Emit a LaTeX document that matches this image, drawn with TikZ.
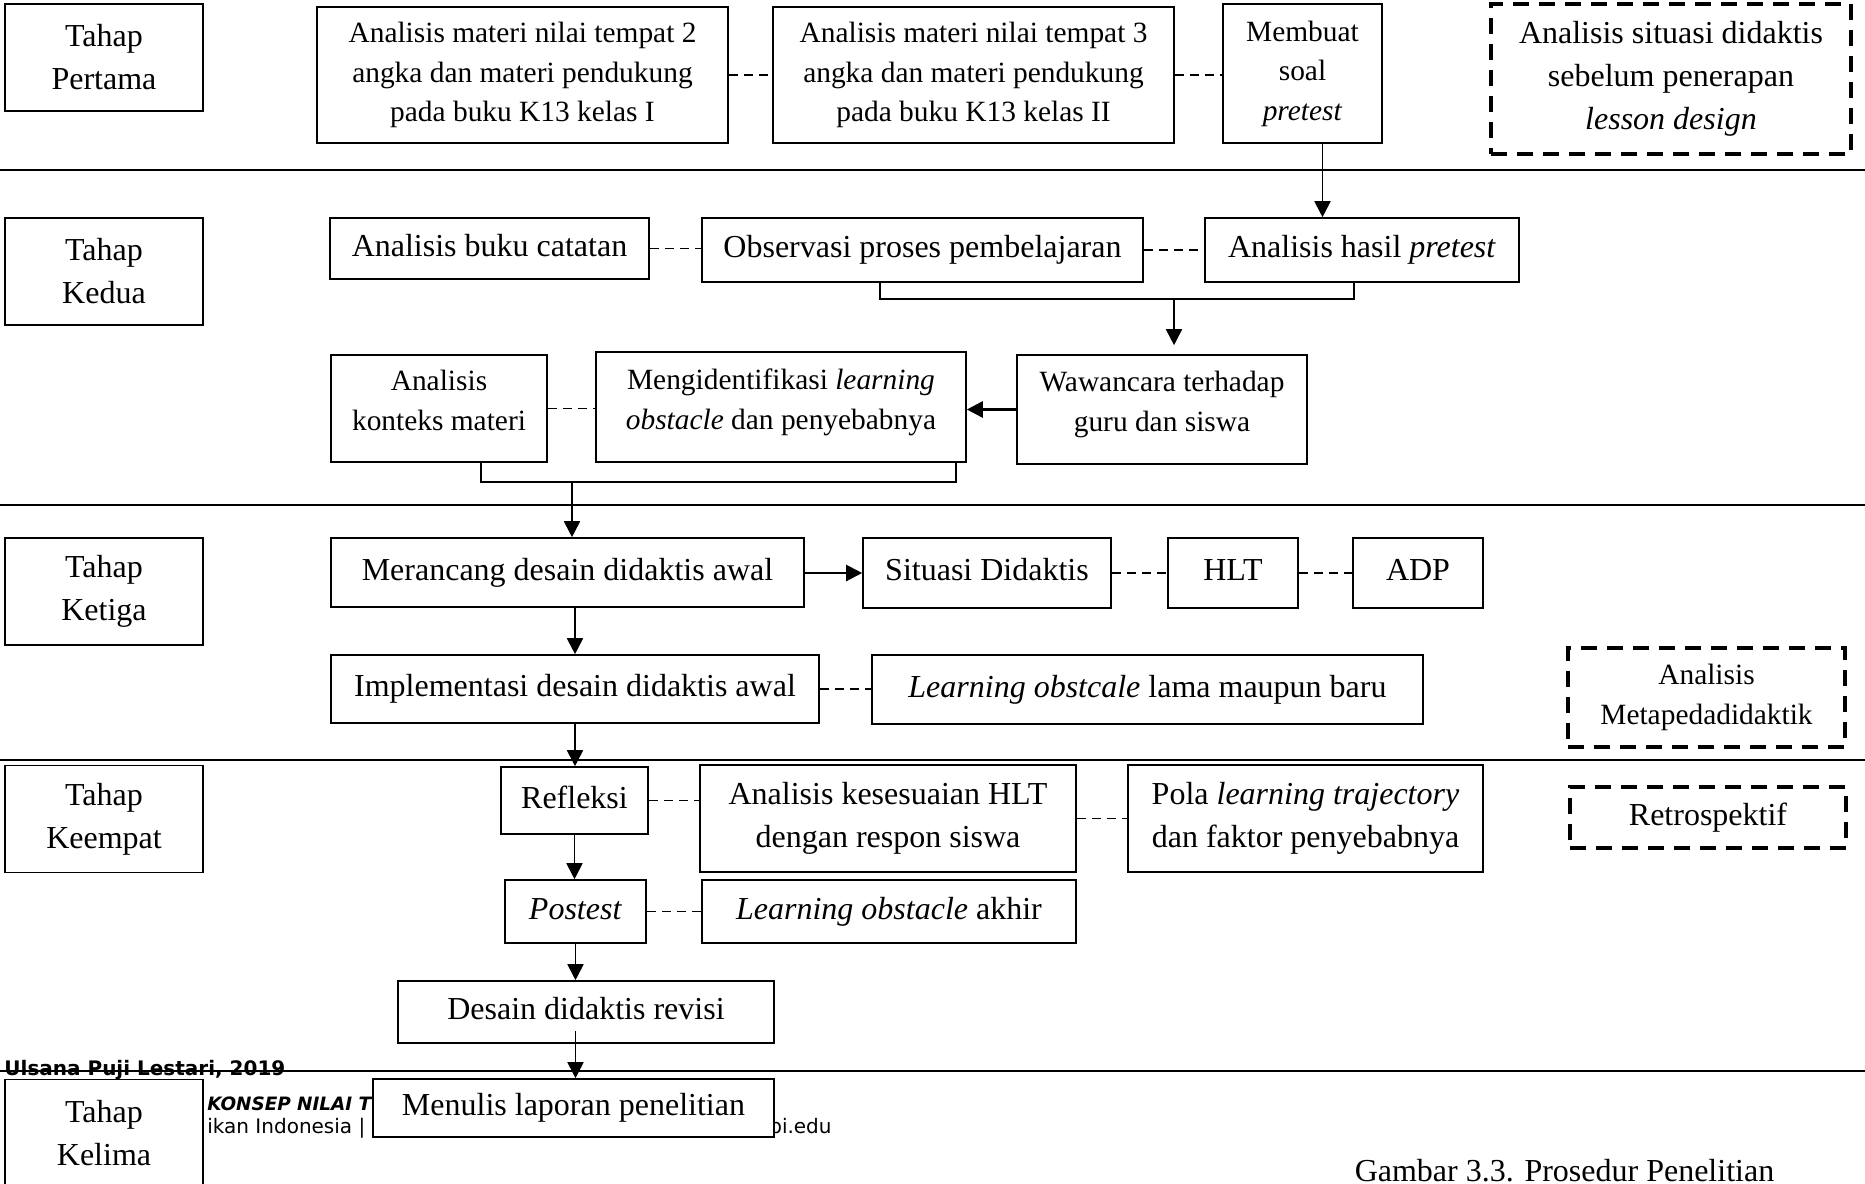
\documentclass[tikz,border=0pt]{standalone}
\usepackage{fontspec}
\setmainfont{Liberation Serif}
\newfontfamily\footfont{DejaVu Sans}
\usetikzlibrary{positioning,arrows.meta}

\begin{document}
\begin{tikzpicture}[x=0.5pt, y=-0.5pt, every node/.style={font=\fontsize{16}{21.5}\selectfont}]
\tikzstyle{box}=[rectangle, draw=black, line width=0.8pt, fill=white, align=center, inner sep=0pt]
\tikzstyle{one}=[text height=11pt, text depth=3.5pt]
\tikzstyle{small}=[font=\fontsize{14.7}{19.75}\selectfont]
\tikzstyle{dbox}=[box, line width=1.6pt, dash pattern=on 8pt off 5pt]
\tikzstyle{tahap}=[box, minimum width=99pt, minimum height=53.5pt]
\tikzstyle{link}=[line width=0.6pt, dash pattern=on 4.5pt off 3pt]
\tikzstyle{arr}=[-{Triangle[length=8pt,width=8pt]}, line width=0.9pt]
\tikzstyle{bigarr}=[arr, line width=1.4pt]
\tikzstyle{sep}=[line width=0.9pt]
\tikzstyle{foot}=[font=\footfont\fontsize{10}{12}\selectfont, anchor=base west, inner sep=0pt]

% page
\fill[white] (0,0) rectangle (1865,1184);
\useasboundingbox (0,0) rectangle (1865,1184);
\foreach \y in {170,505,760,1071} \draw[sep] (0,\y) -- (1865,\y);

% footer of the page
\node[foot] (penulis) at (4,1075) {\bfseries Ulsana Puji Lestari, 2019};
\node[foot] (judul) at (207,1110) {\fontsize{9.2}{11}\selectfont\bfseries\itshape KONSEP NILAI T};
\node[foot] (univ) at (207,1133) {ikan Indonesia |};
\node[foot, anchor=base east] (repo) at (832,1133) {pi.edu};

% stages
\node[tahap] (t1) at (104,57.5) {Tahap\\Pertama};
\node[tahap] (t2) at (104,271.5) {Tahap\\Kedua};
\node[tahap] (t3) at (104,591.5) {Tahap\\Ketiga};
\node[tahap] (t4) at (104,819) {Tahap\\Keempat};
\node[tahap] (t5) at (104,1133) {Tahap\\Kelima};

% tahap pertama
\node[box, small, minimum width=205.5pt, minimum height=68pt] (materi1) at (522.5,75) {Analisis materi nilai tempat 2\\angka dan materi pendukung\\pada buku K13 kelas I};
\node[box, small, minimum width=200.5pt, minimum height=68pt] (materi2) at (973.5,75) {Analisis materi nilai tempat 3\\angka dan materi pendukung\\pada buku K13 kelas II};
\node[box, small, minimum width=79.5pt, minimum height=69.5pt] (soal) at (1302.5,73.5) {Membuat\\soal\\\textit{pretest}};
\node[dbox, minimum width=180pt, minimum height=75pt] (situasi) at (1671,79) {Analisis situasi didaktis\\sebelum penerapan\\\textit{lesson design}};
\draw[link] (materi1) -- (materi2);
\draw[link] (materi2.east) -- (materi2.east -| soal.west);

% tahap kedua
\node[box, one, minimum width=159.5pt, minimum height=30.5pt] (buku) at (489.5,248.5) {Analisis buku catatan};
\node[box, one, minimum width=220.5pt, minimum height=32pt] (obs) at (922.5,250) {Observasi proses pembelajaran};
\node[box, one, minimum width=157pt, minimum height=32pt] (hasil) at (1362,250) {Analisis hasil \textit{pretest}};
\node[box, small, minimum width=108pt, minimum height=53.5pt] (konteks) at (439,408.5) {Analisis\\konteks materi\rule[-8pt]{0pt}{8pt}};
\node[box, small, minimum width=185pt, minimum height=55pt] (mengid) at (781,407) {Mengidentifikasi \textit{learning}\\\textit{obstacle} dan penyebabnya\rule[-8pt]{0pt}{8pt}};
\node[box, small, minimum width=145pt, minimum height=54.5pt] (wawan) at (1162,409.5) {Wawancara terhadap\\guru dan siswa\rule[-8pt]{0pt}{8pt}};
\draw[arr] ([xshift=10pt]soal.south) -- ([xshift=10pt]soal.south |- hasil.north);
\draw[link] (buku.east) -- (buku.east -| obs.west);
\draw[link] (obs) -- (hasil);
\coordinate (j1) at (1174,299);
\draw[line width=0.8pt] ([xshift=-21.25pt]obs.south) |- (j1) -| ([xshift=-4pt]hasil.south);
\draw[arr, shorten >=4.5pt] (j1) -- (j1 |- wawan.north);
\draw[bigarr] (wawan.west) -- (wawan.west -| mengid.east);
\draw[link] (konteks.east) -- (konteks.east -| mengid.west);
\coordinate (j2) at (572,482);
\draw[line width=0.8pt] ([xshift=21pt]konteks.south) |- (j2) -| ([xshift=87.5pt]mengid.south);

% tahap ketiga
\node[box, one, minimum width=236.5pt, minimum height=34.5pt] (rancang) at (567.5,572.5) {Merancang desain didaktis awal};
\node[box, one, minimum width=124pt, minimum height=35pt] (sitdid) at (987,573) {Situasi Didaktis};
\node[box, one, minimum width=65pt, minimum height=35pt] (hlt) at (1233,573) {HLT};
\node[box, one, minimum width=65pt, minimum height=35pt] (adp) at (1418,573) {ADP};
\node[box, one, minimum width=244pt, minimum height=34pt] (impl) at (575,689) {Implementasi desain didaktis awal};
\node[box, one, minimum width=275.5pt, minimum height=34.5pt] (lolama) at (1147.5,689.5) {\textit{Learning obstcale} lama maupun baru};
\node[dbox, small, minimum width=138.5pt, minimum height=49.5pt] (meta) at (1706.5,697.5) {Analisis\\Metapedadidaktik};
\draw[arr] (j2) -- (j2 |- rancang.north);
\draw[arr, line width=1.1pt] (rancang.east |- sitdid.west) -- (sitdid.west);
\draw[link] (sitdid) -- (hlt);
\draw[link] (hlt) -- (adp);
\draw[arr] (rancang.south -| impl.north) -- (impl.north);
\draw[link] (impl.east) -- (impl.east -| lolama.west);

% tahap keempat
\node[box, one, minimum width=73.5pt, minimum height=33.5pt] (refl) at (574.5,800.5) {Refleksi};
\node[box, minimum width=188pt, minimum height=53.5pt] (sesuai) at (888,818.5) {Analisis kesesuaian HLT\\dengan respon siswa};
\node[box, minimum width=177.5pt, minimum height=53.5pt] (pola) at (1305.5,818.5) {Pola \textit{learning trajectory}\\dan faktor penyebabnya};
\node[dbox, one, minimum width=138pt, minimum height=30.5pt] (retro) at (1708,817.5) {Retrospektif};
\node[box, one, minimum width=70.5pt, minimum height=31.5pt] (post) at (575.5,911.5) {\textit{Postest}};
\node[box, one, minimum width=187pt, minimum height=31.5pt] (loakhir) at (889,911.5) {\textit{Learning obstacle} akhir};
\node[box, one, minimum width=188pt, minimum height=31pt] (desain) at (586,1012) {Desain didaktis revisi};
\draw[arr] (impl.south) -- (impl.south |- refl.north);
\draw[link] (refl.east) -- (refl.east -| sesuai.west);
\draw[link] (sesuai) -- (pola);
\draw[arr] (refl.south) -- (refl.south |- post.north);
\draw[link] (post) -- (loakhir);
\draw[arr] (post.south) -- (post.south |- desain.north);

% tahap kelima
\node[box, one, minimum width=200.5pt, minimum height=29pt] (tulis) at (573.5,1108) {Menulis laporan penelitian};
\draw[arr] (post.south |- desain.south) ++(0,-13) -- (post.south |- tulis.north);

\node[anchor=base, inner sep=0pt] (caption) at (1564.5,1181) {Gambar 3.3. Prosedur Penelitian};
\end{tikzpicture}
\end{document}
